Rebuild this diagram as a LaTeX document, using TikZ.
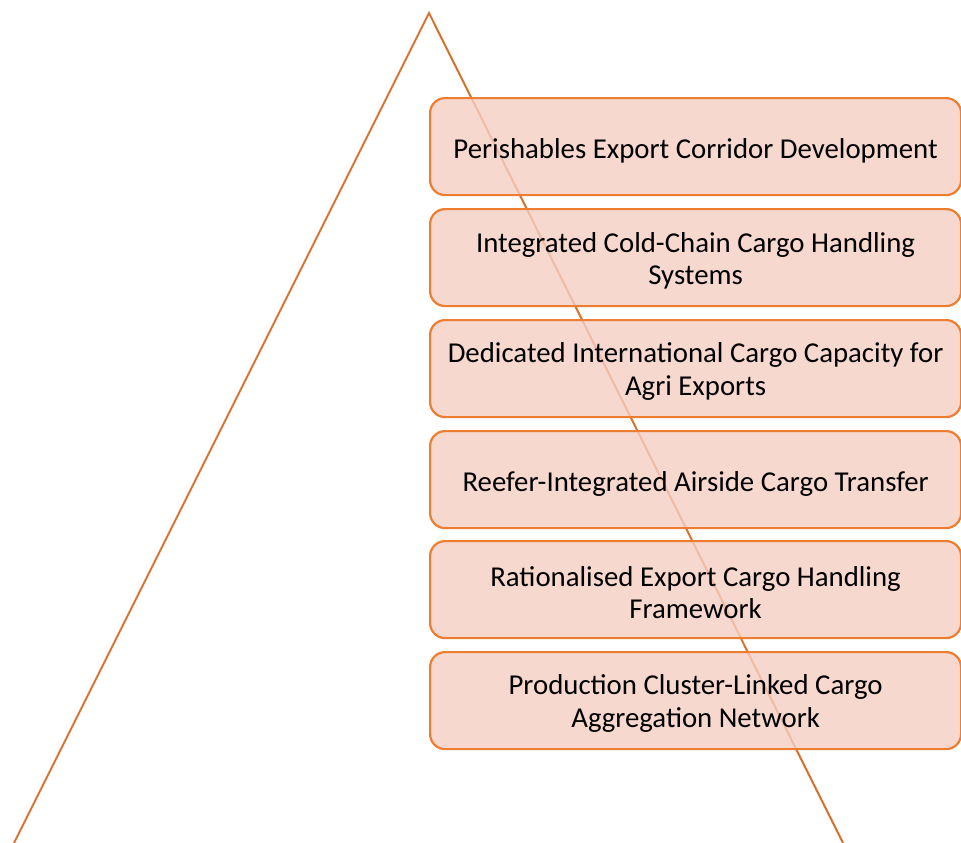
\documentclass[tikz,border=0pt]{standalone}
\usepackage{fontspec}
\setmainfont{Carlito}
\definecolor{tri}{HTML}{D9712C}
\definecolor{bord}{HTML}{ED7D31}
\definecolor{boxfill}{RGB}{245,206,195}
\tikzset{
  tierbox/.style={draw=bord, line width=2.2pt, rounded corners=15pt, fill=boxfill, fill opacity=0.8,
    minimum width=531pt, minimum height=97pt, inner sep=0pt, anchor=north west},
  tiertext/.style={align=center, font=\fontsize{28.8}{32.5}\selectfont, inner sep=0pt},
}
\begin{document}
\begin{tikzpicture}[x=1pt,y=-1pt]
\useasboundingbox (0,0) rectangle (961,843);
\coordinate (apex) at (429,13);
\coordinate (bl) at (14,843);
\coordinate (br) at (843,843);
\draw[tri, line width=2pt, line join=miter] (bl) -- (apex) -- (br);
\node[tierbox] (b1) at (429,97) {};
\node[tierbox] (b2) at (429,208) {};
\node[tierbox] (b3) at (429,319) {};
\node[tierbox] (b4) at (429,430) {};
\node[tierbox] (b5) at (429,540) {};
\node[tierbox] (b6) at (429,651) {};
\node[tiertext] (t1) at ([yshift=-4pt]b1.center) {Perishables Export Corridor Development};
\node[tiertext] (t2) at ([yshift=-3pt]b2.center) {Integrated Cold-Chain Cargo Handling\\Systems};
\node[tiertext] (t3) at ([yshift=-3pt]b3.center) {Dedicated International Cargo Capacity for\\Agri Exports};
\node[tiertext] (t4) at ([yshift=-4pt]b4.center) {Reefer-Integrated Airside Cargo Transfer};
\node[tiertext] (t5) at ([yshift=-3pt]b5.center) {Rationalised Export Cargo Handling\\Framework};
\node[tiertext] (t6) at ([yshift=-3pt]b6.center) {Production Cluster-Linked Cargo\\Aggregation Network};
\end{tikzpicture}
\end{document}
